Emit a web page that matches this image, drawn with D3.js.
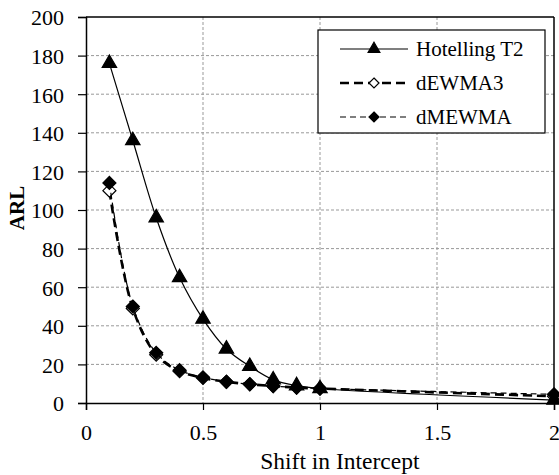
<!DOCTYPE html>
<meta charset="utf-8">
<script src="https://d3js.org/d3.v7.min.js"></script>
<style>
body { margin: 0; background: #fff; }
svg text { font-family: "Liberation Serif", "Times New Roman", serif; fill: #000; }
.grid line { stroke: #999; stroke-dasharray: 3,2; }
</style>
<div id="chart"></div>
<script>

var shifts = [0.1, 0.2, 0.3, 0.4, 0.5, 0.6, 0.7, 0.8, 0.9, 1, 2];
var hotelling = [176, 136, 96, 65, 43.5, 28, 19, 12, 9, 7.5, 1.5];
var dewma3 = [110, 49, 25, 16.5, 13, 11, 9.7, 8.8, 8, 7.5, 3.5];
var dmewma = [114, 50, 26, 17, 13.3, 11, 9.8, 8.8, 8, 7.5, 4.5];
var xTicks = [0, 0.5, 1, 1.5, 2];
var yTicks = [0, 20, 40, 60, 80, 100, 120, 140, 160, 180, 200];
var seriesNames = ["Hotelling T2", "dEWMA3", "dMEWMA"];

var margin = {top: 17, right: 5, bottom: 72, left: 86},
    width = 554 - margin.left,
    height = 403 - margin.top;

var svg = d3.select("#chart")
  .append("svg")
    .attr("width", 559)
    .attr("height", 475)
  .append("g")
    .attr("transform", "translate(" + margin.left + "," + margin.top + ")");

var x = d3.scaleLinear().domain([0, 2]).range([0, width]);
var y = d3.scaleLinear().domain([0, 200]).range([height, 0]);

// square diamond (rotated square), like the excel marker
var squareDiamond = {
  draw: function(ctx, size) {
    var r = Math.sqrt(size / 2);
    ctx.moveTo(0, -r);
    ctx.lineTo(r, 0);
    ctx.lineTo(0, r);
    ctx.lineTo(-r, 0);
    ctx.closePath();
  }
};

// grid
svg.append("g").attr("class", "grid")
  .selectAll("line")
  .data(yTicks.slice(1, -1))
  .enter().append("line")
    .attr("x1", 0).attr("x2", width)
    .attr("y1", function(d) { return y(d); })
    .attr("y2", function(d) { return y(d); });

svg.append("g").attr("class", "grid")
  .selectAll("line")
  .data(xTicks.slice(1, -1))
  .enter().append("line")
    .attr("y1", 0).attr("y2", height)
    .attr("x1", function(d) { return x(d); })
    .attr("x2", function(d) { return x(d); });

// frame top / right
svg.append("line").attr("x1", 0).attr("x2", width).attr("y1", 0).attr("y2", 0)
  .attr("stroke", "#000").attr("stroke-width", 1.5);
svg.append("line").attr("x1", width).attr("x2", width).attr("y1", 0).attr("y2", height)
  .attr("stroke", "#000").attr("stroke-width", 1.5);

// axes
var xAxis = svg.append("g")
  .attr("transform", "translate(0," + height + ")")
  .call(d3.axisBottom(x).tickValues(xTicks).tickSize(7).tickPadding(14)
    .tickFormat(function(d) { return d3.format("")(d); }));
var yAxis = svg.append("g")
  .call(d3.axisLeft(y).tickValues(yTicks).tickSize(8).tickPadding(14));

[xAxis, yAxis].forEach(function(a) {
  a.attr("font-family", "Liberation Serif, serif").attr("font-size", 22);
  a.select(".domain").attr("stroke", "#000").attr("stroke-width", 1.5);
  a.selectAll(".tick line").attr("stroke", "#000").attr("stroke-width", 1.2);
});
yAxis.selectAll("text").attr("dy", "0.36em");

svg.append("text")
  .attr("x", x(1.085))
  .attr("y", height + 66)
  .style("text-anchor", "middle")
  .style("font-size", "23.5px")
  .text("Shift in Intercept");

svg.append("text")
  .attr("transform", "rotate(-90)")
  .attr("x", -(208 - margin.top))
  .attr("y", -62)
  .style("text-anchor", "middle")
  .style("font-size", "21px")
  .style("font-weight", "bold")
  .text("ARL");

var line = d3.line()
  .x(function(d) { return x(d[0]); })
  .y(function(d) { return y(d[1]); })
  .curve(d3.curveCatmullRom.alpha(0.5));

var tri = d3.symbol().type(d3.symbolTriangle).size(90);
var dia = d3.symbol().type(squareDiamond).size(85);

function pts(vals) { return shifts.map(function(s, i) { return [s, vals[i]]; }); }

var styles = [
  {vals: dewma3, width: 2.6, dash: "9,5", sym: dia, fill: "#fff"},
  {vals: dmewma, width: 1.2, dash: "6,4", sym: dia, fill: "#000"},
  {vals: hotelling, width: 1.2, dash: null, sym: tri, fill: "#000"}
];

styles.forEach(function(s) {
  svg.append("path")
    .datum(pts(s.vals))
    .attr("d", line)
    .attr("fill", "none")
    .attr("stroke", "#000")
    .attr("stroke-width", s.width)
    .attr("stroke-dasharray", s.dash);
  svg.append("g").selectAll("path")
    .data(pts(s.vals))
    .enter().append("path")
      .attr("d", s.sym)
      .attr("transform", function(d) { return "translate(" + x(d[0]) + "," + y(d[1]) + ")"; })
      .attr("fill", s.fill)
      .attr("stroke", "#000")
      .attr("stroke-width", 1.2);
});

// legend
var lg = svg.append("g").attr("transform", "translate(" + (318 - margin.left) + "," + (30 - margin.top) + ")");
lg.append("rect").attr("width", 227).attr("height", 103)
  .attr("fill", "#fff").attr("stroke", "#000").attr("stroke-width", 1.2);

var legendStyles = [
  {width: 1.2, dash: null, sym: d3.symbol().type(d3.symbolTriangle).size(60), fill: "#000"},
  {width: 2.6, dash: "9,5", sym: d3.symbol().type(squareDiamond).size(50), fill: "#fff"},
  {width: 1.2, dash: "6,4", sym: d3.symbol().type(squareDiamond).size(50), fill: "#000"}
];

seriesNames.forEach(function(name, i) {
  var cy = 19 + i * 34;
  var st = legendStyles[i];
  lg.append("line")
    .attr("x1", 22).attr("x2", 90).attr("y1", cy).attr("y2", cy)
    .attr("stroke", "#000").attr("stroke-width", st.width)
    .attr("stroke-dasharray", st.dash);
  lg.append("path")
    .attr("d", st.sym)
    .attr("transform", "translate(56," + cy + ")")
    .attr("fill", st.fill).attr("stroke", "#000").attr("stroke-width", 1.2);
  lg.append("text")
    .attr("x", 98).attr("y", cy + 7)
    .style("font-size", "21px")
    .text(name);
});

</script>
